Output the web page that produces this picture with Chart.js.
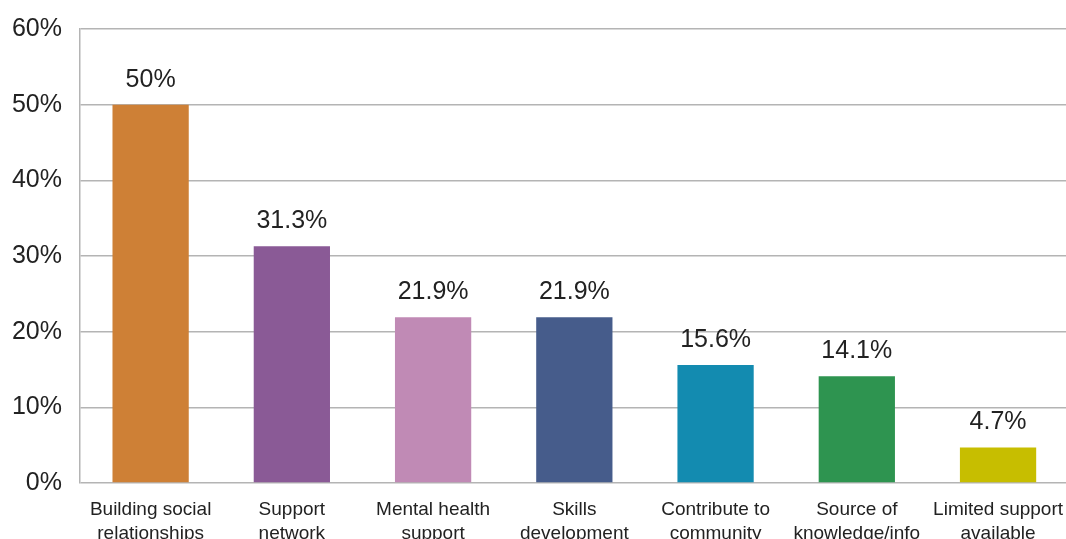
<!DOCTYPE html>
<html lang="en">
<head>
    <meta charset="UTF-8">
    <title>Benefits chart</title>
    <script src="https://cdn.jsdelivr.net/npm/chart.js"></script>
    <style>
        html, body { margin: 0; padding: 0; overflow: hidden; background: #fff; }
        #wrap { position: relative; width: 1070px; height: 564px; margin-top: -4px; }
    </style>
</head>
<body>
    <div id="wrap"><canvas id="barChart"></canvas></div>

    <script>
        const categories = [
            ['Building social', 'relationships'],
            ['Support', 'network'],
            ['Mental health', 'support'],
            ['Skills', 'development'],
            ['Contribute to', 'community'],
            ['Source of', 'knowledge/info'],
            ['Limited support', 'available']
        ];
        const values = [50, 31.3, 21.9, 21.9, 15.6, 14.1, 4.7];
        const barColors = ['#CE8036', '#8A5A96', '#C08AB5', '#465C8B', '#138BB0', '#2E9450', '#C7BE00'];

        const fontFamily = '"Liberation Sans", Arial, sans-serif';

        // value labels above the bars
        const valueLabels = {
            id: 'valueLabels',
            afterDatasetsDraw(chart) {
                const ctx = chart.ctx;
                const meta = chart.getDatasetMeta(0);
                ctx.save();
                ctx.font = '25px ' + fontFamily;
                ctx.fillStyle = '#222';
                ctx.textAlign = 'center';
                ctx.textBaseline = 'alphabetic';
                meta.data.forEach((bar, i) => {
                    ctx.fillText(values[i] + '%', bar.x, bar.y - 18);
                });
                ctx.restore();
            }
        };

        new Chart(document.getElementById('barChart'), {
            type: 'bar',
            data: {
                labels: categories,
                datasets: [{
                    data: values,
                    backgroundColor: barColors,
                    categoryPercentage: 1,
                    barPercentage: 0.54
                }]
            },
            options: {
                responsive: true,
                maintainAspectRatio: false,
                animation: false,
                layout: { padding: { top: 11, right: 0, left: 0, bottom: 0 } },
                plugins: { legend: { display: false }, tooltip: { enabled: false } },
                scales: {
                    x: {
                        grid: { display: false },
                        border: { display: false },
                        ticks: {
                            color: '#222',
                            font: { family: fontFamily, size: 19, lineHeight: 1.25 },
                            padding: 7,
                            maxRotation: 0,
                            autoSkip: false
                        },
                        afterFit(scale) { scale.height = 77; }
                    },
                    y: {
                        min: 0,
                        max: 60,
                        grid: { color: '#b4b4b4', lineWidth: 1.5, drawTicks: false },
                        border: { display: true, color: '#b4b4b4', width: 1.5 },
                        ticks: {
                            stepSize: 10,
                            color: '#222',
                            font: { family: fontFamily, size: 25 },
                            padding: 18,
                            callback: v => v + '%'
                        },
                        afterFit(scale) { scale.width = 80; }
                    }
                }
            },
            plugins: [valueLabels]
        });
    </script>
</body>
</html>
